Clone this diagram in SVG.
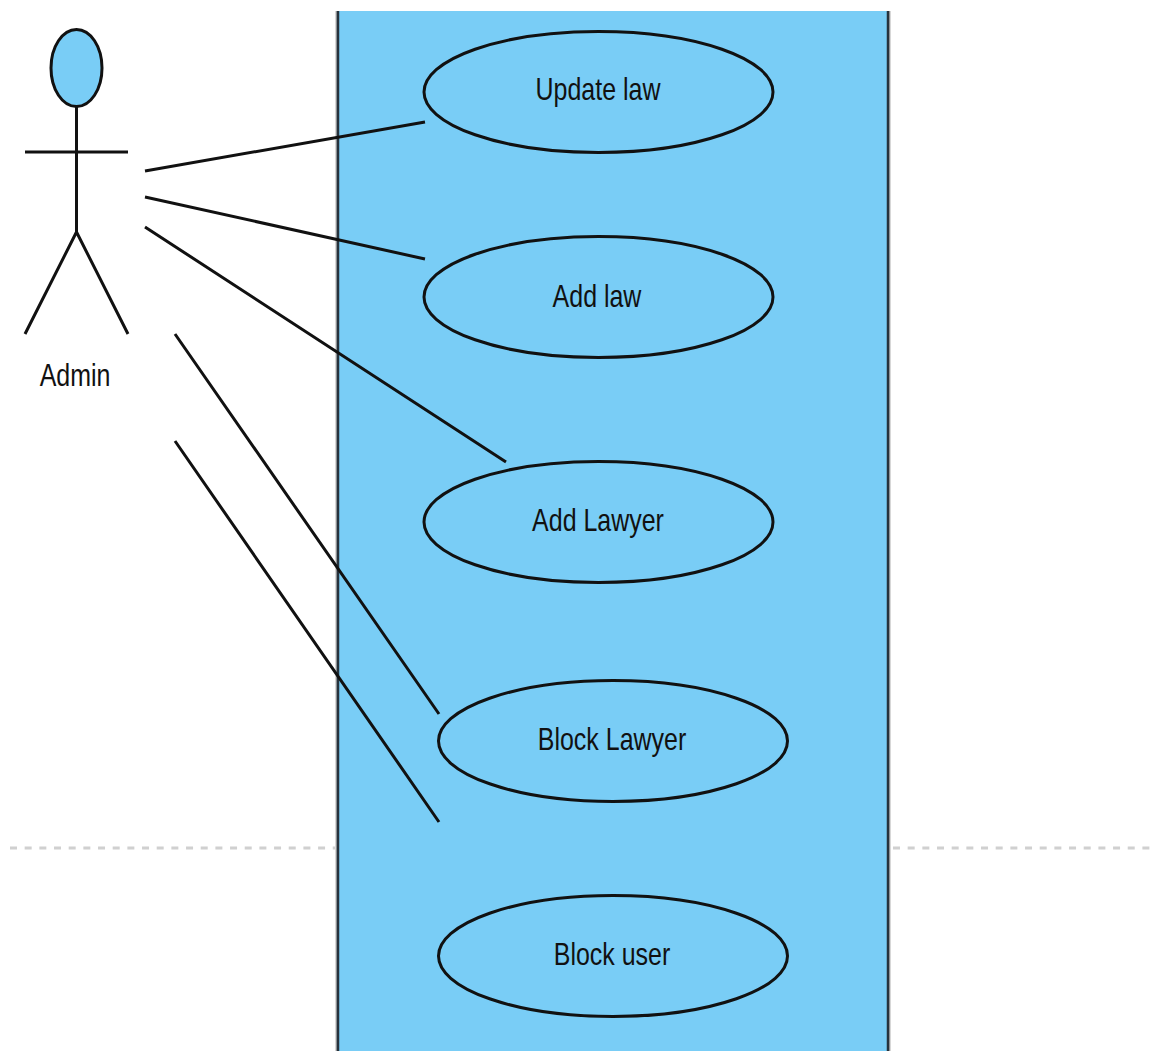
<svg xmlns="http://www.w3.org/2000/svg" width="1158" height="1051" viewBox="0 0 1158 1051">
<style>
.s{stroke:#111;stroke-width:3;fill:none}
.u{fill:#79cdf6;stroke:#111;stroke-width:3}
.t{font-family:"Liberation Sans",Arial,sans-serif;font-size:32px;fill:#111;text-anchor:middle}
.d{stroke:#d0d0d0;stroke-width:3;stroke-dasharray:7 7.670;fill:none}
.b{stroke:#26323c;stroke-width:2.500;fill:none}
.g{stroke:#b0b0b0;stroke-width:2;fill:none}
</style>
<rect width="1158" height="1051" fill="#fff"/>
<g id="guides"><path class="d" d="M10 848H335"/><path class="d" d="M893 848H1156"/></g>
<g id="system"><path d="M337.500 11V1051H888.500V11Z" fill="#79cdf6"/><path class="g" d="M336.500 11V1051M889.500 11V1051"/><path class="b" d="M338 11V1051M888 11V1051"/></g>
<g id="actor-admin">
<ellipse class="u" cx="76.500" cy="68" rx="25.500" ry="38.500"/>
<path class="s" d="M76.500 106V232M25 152H128M76.500 232L25 334M76.500 232L128 334"/>
<text class="t" transform="translate(75 386) scale(.78 1)">Admin</text>
</g>
<g id="connectors">
<path class="s" d="M145 171L425 122M145 197L425 259M145 227L506 462M175 334L439 714M175 441L439 822"/>
</g>
<g id="uc-update-law"><ellipse class="u" cx="598.500" cy="92" rx="174.500" ry="60.500"/><text class="t" transform="translate(598 100) scale(.78 1)">Update law</text></g>
<g id="uc-add-law"><ellipse class="u" cx="598.500" cy="297" rx="174.500" ry="60.500"/><text class="t" transform="translate(597 307) scale(.78 1)">Add law</text></g>
<g id="uc-add-lawyer"><ellipse class="u" cx="598.500" cy="522" rx="174.500" ry="60.500"/><text class="t" transform="translate(598 531) scale(.78 1)">Add Lawyer</text></g>
<g id="uc-block-lawyer"><ellipse class="u" cx="613" cy="741" rx="174.500" ry="60.500"/><text class="t" transform="translate(612 750) scale(.78 1)">Block Lawyer</text></g>
<g id="uc-block-user"><ellipse class="u" cx="613" cy="956" rx="174.500" ry="60.500"/><text class="t" transform="translate(612 965) scale(.78 1)">Block user</text></g>
</svg>
